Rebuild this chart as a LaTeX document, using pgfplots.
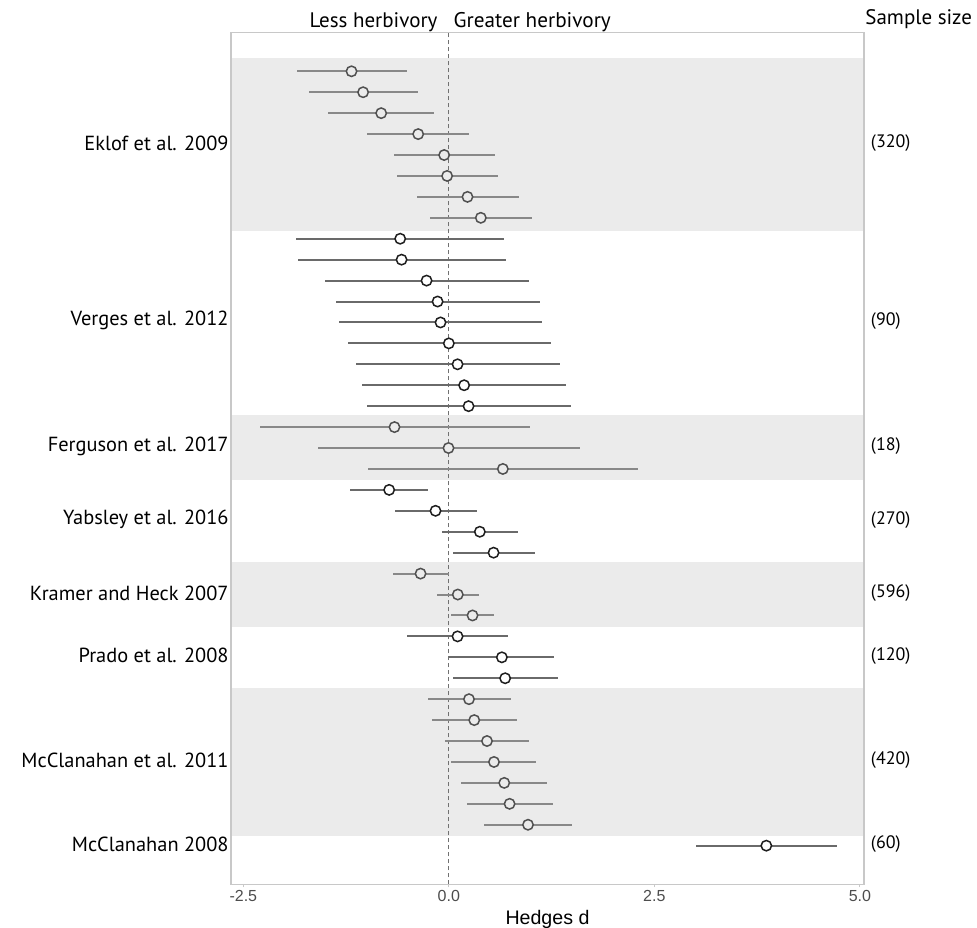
\documentclass[border=0pt]{standalone}
\usepackage{pgfplots}
\usepackage{pgfplotstable}
\pgfplotsset{compat=1.18}
\usepackage{fontspec}
\setmainfont{PT Sans}
\newfontfamily\arialf{Liberation Sans}
\definecolor{band}{HTML}{EBEBEB}
\definecolor{framec}{HTML}{C8C8C8}
\definecolor{tickc}{HTML}{4D4D4D}
\definecolor{lineA}{HTML}{6A6A6A}
\definecolor{ptA}{HTML}{1E1E1E}
\definecolor{lineB}{HTML}{888888}
\definecolor{ptB}{HTML}{505050}

% rows inside grey bands
\pgfplotstableread{
y x lo hi
38 -1.184 -1.853 -0.515
37 -1.043 -1.699 -0.381
36 -0.823 -1.464 -0.186
35 -0.373 -0.998 0.247
34 -0.057 -0.673 0.560
33 -0.021 -0.636 0.600
32 0.227 -0.389 0.852
31 0.389 -0.235 1.010
21 -0.661 -2.296 0.982
20 -0.004 -1.597 1.597
19 0.657 -0.982 2.296
14 -0.344 -0.685 -0.004
13 0.109 -0.150 0.369
12 0.288 0.024 0.547
8 0.245 -0.259 0.753
7 0.309 -0.200 0.823
6 0.464 -0.045 0.978
5 0.549 0.030 1.063
4 0.674 0.150 1.193
3 0.739 0.215 1.262
2 0.963 0.429 1.497
}\bandrows

% rows on white
\pgfplotstableread{
y x lo hi
30 -0.592 -1.858 0.669
29 -0.575 -1.833 0.690
28 -0.271 -1.509 0.973
27 -0.137 -1.375 1.103
26 -0.101 -1.338 1.135
25 0.000 -1.229 1.241
24 0.106 -1.128 1.350
23 0.186 -1.055 1.423
22 0.240 -0.998 1.481
18 -0.726 -1.201 -0.255
17 -0.162 -0.661 0.337
16 0.377 -0.085 0.839
15 0.544 0.045 1.050
11 0.106 -0.507 0.721
10 0.645 0.000 1.274
9 0.685 0.052 1.322
1 3.862 3.009 4.726
}\whiterows

\begin{document}
\begin{tikzpicture}
\begin{axis}[
  name=ax,
  scale only axis,
  width=316.5pt, height=425.9pt,
  xmin=-2.65, xmax=5.05,
  ymin=-0.85, ymax=39.85,
  clip=false,
  axis on top,
  axis line style={framec, line width=0.6pt},
  xtick={-2.5,0,2.5,5},
  xticklabels={-2.5,0.0,2.5,5.0},
  x tick style={draw=framec, line width=0.6pt},
  y tick style={draw=none},
  tick align=outside,
  major tick length=1.5pt,
  xtick pos=bottom,
  ytick pos=left,
  xticklabel style={font=\arialf\fontsize{8}{9}\selectfont, text=tickc, anchor=base, yshift=-6.9pt},
  ytick={34.5,26,20,16.5,13,10,5,1},
  yticklabels={Eklof et al. 2009, Verges et al. 2012, Ferguson et al. 2017, Yabsley et al. 2016, Kramer and Heck 2007, Prado et al. 2008, McClanahan et al. 2011, McClanahan 2008},
  yticklabel style={font=\fontsize{10.2}{12}\selectfont, text=black, inner xsep=0pt, xshift=0.5pt, yshift=0.8pt},
  xlabel={Hedges d},
  xlabel style={font=\arialf\fontsize{9.8}{11}\selectfont, anchor=base, at={(axis description cs:0.5,0)}, yshift=-20pt},
]
% grey bands
\fill[band] (axis cs:-2.65,30.35) rectangle (axis cs:5.05,38.62);
\fill[band] (axis cs:-2.65,18.46) rectangle (axis cs:5.05,21.58);
\fill[band] (axis cs:-2.65,11.45) rectangle (axis cs:5.05,14.54);
\fill[band] (axis cs:-2.65,1.48) rectangle (axis cs:5.05,8.52);
% zero line
\addplot[dashed, dash pattern=on 2pt off 1.5pt, color=tickc!80, line width=0.6pt] coordinates {(0,-0.85) (0,39.85)};
% error bars
\addplot[draw=none, mark=none, forget plot,
  error bars/.cd, x dir=both, x explicit, error mark=none,
  error bar style={draw=lineB, line width=1pt}]
  table[x=x, y=y, x error plus expr=\thisrow{hi}-\thisrow{x}, x error minus expr=\thisrow{x}-\thisrow{lo}] {\bandrows};
\addplot[draw=none, mark=none, forget plot,
  error bars/.cd, x dir=both, x explicit, error mark=none,
  error bar style={draw=lineA, line width=1pt}]
  table[x=x, y=y, x error plus expr=\thisrow{hi}-\thisrow{x}, x error minus expr=\thisrow{x}-\thisrow{lo}] {\whiterows};
% points
\addplot[only marks, mark=*, mark size=2.6pt, mark options={draw=ptB, fill=band, line width=0.75pt}]
  table[x=x, y=y] {\bandrows};
\addplot[only marks, mark=*, mark size=2.6pt, mark options={draw=ptA, fill=white, line width=0.75pt}]
  table[x=x, y=y] {\whiterows};
% sample sizes
\begin{scope}[every node/.style={anchor=west, inner sep=0pt, xshift=3.3pt, yshift=0.8pt, font=\fontsize{9}{10}\selectfont}]
\node at (axis cs:5.05,34.5) {(320)};
\node at (axis cs:5.05,26) {(90)};
\node at (axis cs:5.05,20) {(18)};
\node at (axis cs:5.05,16.5) {(270)};
\node at (axis cs:5.05,13) {(596)};
\node at (axis cs:5.05,10) {(120)};
\node at (axis cs:5.05,5) {(420)};
\node at (axis cs:5.05,1) {(60)};
\end{scope}
\node[anchor=base west, inner sep=0pt, xshift=0.5pt, yshift=3.8pt, font=\fontsize{10.5}{12}\selectfont] at (axis cs:5.05,39.85) {Sample size};
\node[anchor=base east, inner sep=0pt, xshift=-5.5pt, yshift=2.6pt, font=\fontsize{10.5}{12}\selectfont] at (axis cs:0,39.85) {Less herbivory};
\node[anchor=base west, inner sep=0pt, xshift=2.2pt, yshift=2.6pt, font=\fontsize{10.6}{12}\selectfont] at (axis cs:0,39.85) {Greater herbivory};
\end{axis}
\pgfresetboundingbox
\useasboundingbox ([shift={(-115.5pt,-21.8pt)}]ax.south west) rectangle ([shift={(56.5pt,16.3pt)}]ax.north east);
\end{tikzpicture}
\end{document}
